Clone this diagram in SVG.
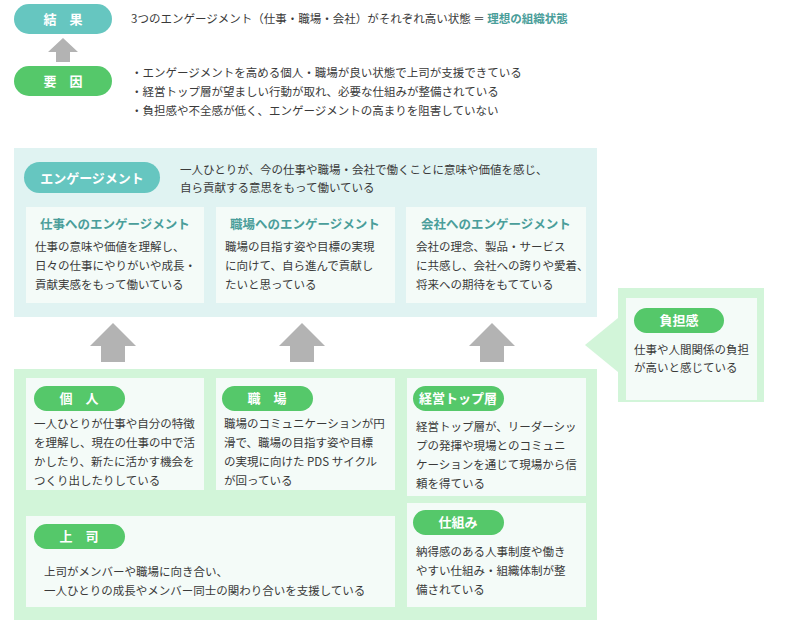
<svg xmlns="http://www.w3.org/2000/svg" width="792" height="621" viewBox="0 0 792 621">
<style>
text{font-family:"Noto Sans CJK JP","Noto Sans",sans-serif;font-size:11.5px;fill:#3a3a3a}
.pt{fill:#fff;font-weight:bold;font-size:13px;text-anchor:middle}
.pill{fill:#55c86a}
.teal{fill:#66c6c0}
.ib{fill:#f4fbf8}
.hd{fill:#4a9e9a;font-weight:bold;font-size:12.5px;text-anchor:middle}
.ar{fill:#b3b3b3}
</style>
<rect width="792" height="621" fill="#fff"/>
<g id="result">
<rect class="teal" x="14" y="4" width="98" height="30" rx="15"/>
<text class="pt" x="63" y="24" font-size="14">結　果</text>
<text x="131" y="23">3つのエンゲージメント（仕事・職場・会社）がそれぞれ高い状態 ＝ <tspan style="fill:#4a9e9a;font-weight:bold">理想の組織状態</tspan></text>
</g>
<g id="factor">
<rect class="pill" x="14" y="66" width="98" height="30" rx="15"/>
<text class="pt" x="63" y="86">要　因</text>
<text x="131" y="77">・エンゲージメントを高める個人・職場が良い状態で上司が支援できている</text>
<text x="131" y="96">・経営トップ層が望ましい行動が取れ、必要な仕組みが整備されている</text>
<text x="131" y="115">・負担感や不全感が低く、エンゲージメントの高まりを阻害していない</text>
</g>
<g id="engagement">
<rect x="14" y="148" width="583" height="169" fill="#e0f3f2"/>
<rect class="teal" x="24" y="162" width="136" height="31" rx="15.5"/>
<text class="pt" x="92" y="183">エンゲージメント</text>
<text x="180" y="174">一人ひとりが、今の仕事や職場・会社で働くことに意味や価値を感じ、</text>
<text x="180" y="192">自ら貢献する意思をもって働いている</text>
</g>
<g id="e-work">
<rect class="ib" x="26" y="207" width="178" height="96"/>
<text class="hd" x="115" y="229">仕事へのエンゲージメント</text>
<text x="35" y="251">仕事の意味や価値を理解し、</text>
<text x="35" y="270">日々の仕事にやりがいや成長・</text>
<text x="35" y="289">貢献実感をもって働いている</text>
</g>
<g id="e-place">
<rect class="ib" x="216" y="207" width="179" height="96"/>
<text class="hd" x="305" y="229">職場へのエンゲージメント</text>
<text x="225" y="251">職場の目指す姿や目標の実現</text>
<text x="225" y="270">に向けて、自ら進んで貢献し</text>
<text x="225" y="289">たいと思っている</text>
</g>
<g id="e-company">
<rect class="ib" x="406" y="207" width="180" height="96"/>
<text class="hd" x="496" y="229">会社へのエンゲージメント</text>
<text x="416" y="251">会社の理念、製品・サービス</text>
<text x="416" y="270">に共感し、会社への誇りや愛着、</text>
<text x="416" y="289">将来への期待をもてている</text>
</g>
<g id="connectors">
<polygon class="ar" points="63,38 78,52 70,52 70,62 56,62 56,52 48,52"/>
<polygon class="ar" points="113,323 136,346 125,346 125,362 101,362 101,346 90,346"/>
<polygon class="ar" points="302,323 325,346 314,346 314,362 290,362 290,346 279,346"/>
<polygon class="ar" points="492,323 515,346 504,346 504,362 480,362 480,346 469,346"/>
<polygon class="ar" points="113,492 128,506 120,506 120,516 106,516 106,506 98,506"/>
<polygon class="ar" points="304,492 319,506 311,506 311,516 297,516 297,506 289,506"/>
<polygon points="585,345 618,318 618,372" fill="#d2f5d9"/>
</g>
<g id="factors-area">
<rect x="14" y="369" width="583" height="251" fill="#d2f5d9"/>
</g>
<g id="burden">
<rect x="618" y="288" width="146" height="114" fill="#d2f5d9"/>
<rect class="ib" x="626" y="298" width="131" height="102"/>
<rect class="pill" x="634" y="308" width="90" height="25" rx="12.5"/>
<text class="pt" x="679" y="325">負担感</text>
<text x="634" y="354">仕事や人間関係の負担</text>
<text x="634" y="372">が高いと感じている</text>
</g>
<g id="individual">
<rect class="ib" x="26" y="378" width="178" height="112"/>
<rect class="pill" x="34" y="386" width="91" height="25" rx="12.5"/>
<text class="pt" x="79" y="403">個　人</text>
<text x="34" y="428">一人ひとりが仕事や自分の特徴</text>
<text x="34" y="447">を理解し、現在の仕事の中で活</text>
<text x="34" y="466">かしたり、新たに活かす機会を</text>
<text x="34" y="485">つくり出したりしている</text>
</g>
<g id="workplace">
<rect class="ib" x="216" y="378" width="179" height="112"/>
<rect class="pill" x="222" y="386" width="91" height="25" rx="12.5"/>
<text class="pt" x="267" y="403">職　場</text>
<text x="224" y="428">職場のコミュニケーションが円</text>
<text x="224" y="447">滑で、職場の目指す姿や目標</text>
<text x="224" y="466">の実現に向けた PDS サイクル</text>
<text x="224" y="485">が回っている</text>
</g>
<g id="top-management">
<rect class="ib" x="407" y="378" width="179" height="118"/>
<rect class="pill" x="413" y="386" width="91" height="25" rx="12.5"/>
<text class="pt" x="458" y="403">経営トップ層</text>
<text x="416" y="431">経営トップ層が、リーダーシッ</text>
<text x="416" y="450">プの発揮や現場とのコミュニ</text>
<text x="416" y="469">ケーションを通じて現場から信</text>
<text x="416" y="488">頼を得ている</text>
</g>
<g id="boss">
<rect class="ib" x="26" y="516" width="369" height="91"/>
<rect class="pill" x="34" y="524" width="91" height="25" rx="12.5"/>
<text class="pt" x="79" y="541">上　司</text>
<text x="44" y="576">上司がメンバーや職場に向き合い、</text>
<text x="44" y="595">一人ひとりの成長やメンバー同士の関わり合いを支援している</text>
</g>
<g id="system">
<rect class="ib" x="407" y="503" width="179" height="104"/>
<rect class="pill" x="413" y="510" width="91" height="25" rx="12.5"/>
<text class="pt" x="458" y="527">仕組み</text>
<text x="416" y="556">納得感のある人事制度や働き</text>
<text x="416" y="575">やすい仕組み・組織体制が整</text>
<text x="416" y="594">備されている</text>
</g>
</svg>
